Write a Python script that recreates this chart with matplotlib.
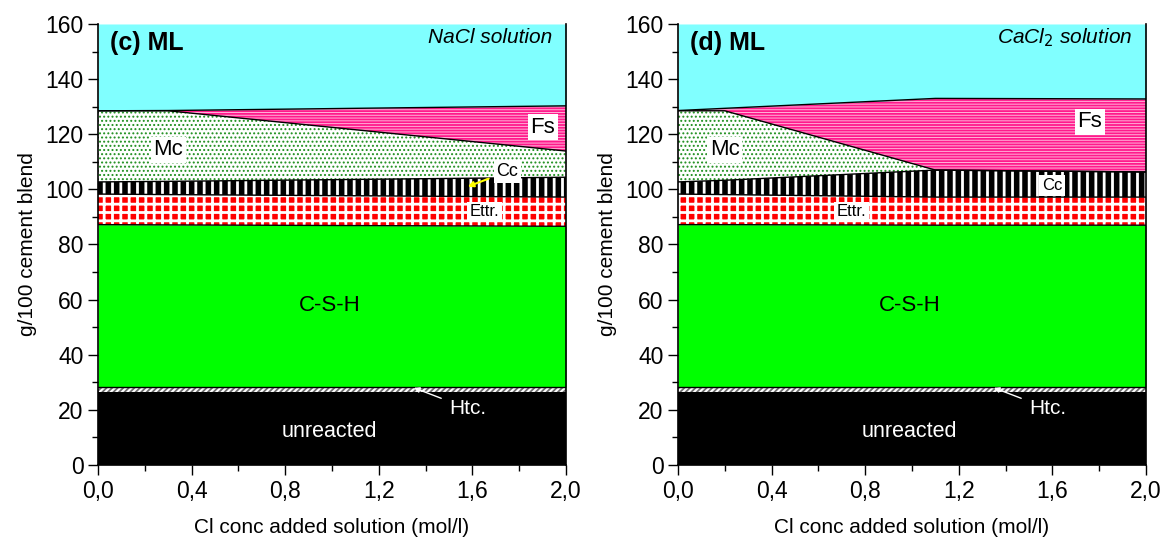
"""Phase assemblage of ML blend vs Cl concentration of the added solution."""
import matplotlib
matplotlib.use("Agg")
import matplotlib.pyplot as plt
from matplotlib.ticker import MultipleLocator, FuncFormatter

plt.rcParams["font.family"] = ["Liberation Sans", "DejaVu Sans"]

# NaCl panel: x positions and upper boundary of each phase (cumulative, g/100 g)
X_NACL = [0.0, 0.3, 2.0]
NACL_UNREACTED = [26.5, 26.5, 26.5]
NACL_HTC = [28.2, 28.2, 28.2]
NACL_CSH = [87.2, 87.1, 86.6]
NACL_ETTR = [98.3, 98.1, 97.2]
NACL_CC = [102.7, 102.9, 104.4]
NACL_MC = [128.5, 128.5, 113.9]
NACL_FS = [128.5, 128.6, 130.3]

# CaCl2 panel
X_CACL = [0.0, 0.2, 1.1, 2.0]
CACL_UNREACTED = [26.5, 26.5, 26.5, 26.5]
CACL_HTC = [28.2, 28.2, 28.2, 28.2]
CACL_CSH = [87.2, 87.2, 87.0, 87.0]
CACL_ETTR = [98.3, 98.1, 97.2, 97.2]
CACL_CC = [102.7, 103.3, 107.0, 106.3]
CACL_MC = [128.5, 128.5, 107.0, 106.3]
CACL_FS = [128.6, 129.4, 133.0, 132.8]

Y_TOP = 160

# (face, hatch colour, hatch, hatch linewidth)
LAYER_STYLE = [
    ("#000000", "#000000", None, 0.5),      # unreacted
    ("#ffffff", "#6e6e6e", "//////", 1.3),  # Htc
    ("#00ff00", "#00ff00", None, 0.5),      # C-S-H
    ("#ff0000", "#ffffff", "++", 2.0),      # Ettr
    ("#000000", "#ffffff", "||", 2.0),      # Cc
    ("#ffffff", "#1f8f1f", "....", 0.9),    # Mc
    ("#ff1a8c", "#ffb3d9", "------", 0.7),  # Fs
    ("#80ffff", "#80ffff", None, 0.5),      # pore solution
]


def comma(v, _):
    return f"{v:.1f}".replace(".", ",")


def draw_panel(ax, x, tops, labels):
    bounds = [[0.0] * len(x)] + tops + [[Y_TOP] * len(x)]
    for i, (fc, hc, hatch, hlw) in enumerate(LAYER_STYLE):
        with plt.rc_context({"hatch.linewidth": hlw}):
            ax.fill_between(x, bounds[i], bounds[i + 1], facecolor=fc,
                            edgecolor=hc, hatch=hatch, linewidth=0)
    for b in tops[1:]:
        ax.plot(x, b, color="black", linewidth=1.0)

    for txt, tx, ty, kw in labels:
        ax.text(tx, ty, txt, ha="center", va="center", **kw)

    ax.set_xlim(0, 2.0)
    ax.set_ylim(0, Y_TOP)
    ax.xaxis.set_major_locator(MultipleLocator(0.4))
    ax.xaxis.set_minor_locator(MultipleLocator(0.2))
    ax.yaxis.set_major_locator(MultipleLocator(20))
    ax.yaxis.set_minor_locator(MultipleLocator(10))
    ax.xaxis.set_major_formatter(FuncFormatter(comma))
    ax.tick_params(which="major", direction="out", length=7, width=1,
                   labelsize=16.5)
    ax.tick_params(which="minor", direction="out", length=4, width=1)
    ax.spines["top"].set_visible(False)
    for s in ("left", "bottom", "right"):
        ax.spines[s].set_linewidth(1.2)
    ax.set_xlabel("Cl conc added solution (mol/l)", fontsize=15, labelpad=11)
    ax.set_ylabel("g/100 cement blend", fontsize=15, labelpad=6)


box = dict(facecolor="white", edgecolor="none", pad=2)
big = dict(fontsize=16, bbox=box)
small = dict(fontsize=12, bbox=box)
white = dict(fontsize=15.5, color="white")
plain = dict(fontsize=16)

fig = plt.figure(figsize=(11.7, 5.45), dpi=100)
ax1 = fig.add_axes([0.0838, 0.1468, 0.4, 0.8092])
ax2 = fig.add_axes([0.5795, 0.1468, 0.4, 0.8092])

draw_panel(ax1, X_NACL,
           [NACL_UNREACTED, NACL_HTC, NACL_CSH, NACL_ETTR, NACL_CC,
            NACL_MC, NACL_FS],
           [("Mc", 0.30, 114.3, big), ("Fs", 1.90, 122.6, big),
            ("Ettr.", 1.65, 91.8, small), ("C-S-H", 0.99, 58, plain),
            ("unreacted", 0.99, 12, white)])
ax1.annotate("Cc", xy=(1.58, 101.0), xytext=(1.75, 106.5), fontsize=13,
             ha="center", va="center", bbox=box,
             arrowprops=dict(arrowstyle="-|>", color="yellow", lw=1.5,
                             mutation_scale=8, shrinkA=4, shrinkB=0))
ax1.annotate("Htc.", xy=(1.35, 28.0), xytext=(1.58, 20.5), fontsize=15,
             color="white", ha="center", va="center",
             arrowprops=dict(arrowstyle="-|>", color="white", lw=1.0,
                             mutation_scale=8, shrinkA=4, shrinkB=0))
ax1.text(0.05, 153, "(c) ML", fontsize=18, fontweight="bold",
         ha="left", va="center")
ax1.text(1.94, 155, "NaCl solution", fontsize=15, style="italic",
         ha="right", va="center")

draw_panel(ax2, X_CACL,
           [CACL_UNREACTED, CACL_HTC, CACL_CSH, CACL_ETTR, CACL_CC,
            CACL_MC, CACL_FS],
           [("Mc", 0.20, 114.3, big), ("Fs", 1.76, 124.5, big),
            ("Cc", 1.60, 101.5, dict(fontsize=12, bbox=box)),
            ("Ettr.", 0.74, 91.8, small),
            ("C-S-H", 0.99, 58, plain),
            ("unreacted", 0.99, 12, white)])
ax2.annotate("Htc.", xy=(1.35, 28.0), xytext=(1.58, 20.5), fontsize=15,
             color="white", ha="center", va="center",
             arrowprops=dict(arrowstyle="-|>", color="white", lw=1.0,
                             mutation_scale=8, shrinkA=4, shrinkB=0))
ax2.text(0.05, 153, "(d) ML", fontsize=18, fontweight="bold",
         ha="left", va="center")
ax2.text(1.94, 155, r"CaCl$_2$ solution", fontsize=15, style="italic",
         ha="right", va="center")

fig.savefig("out.png", dpi=100)
